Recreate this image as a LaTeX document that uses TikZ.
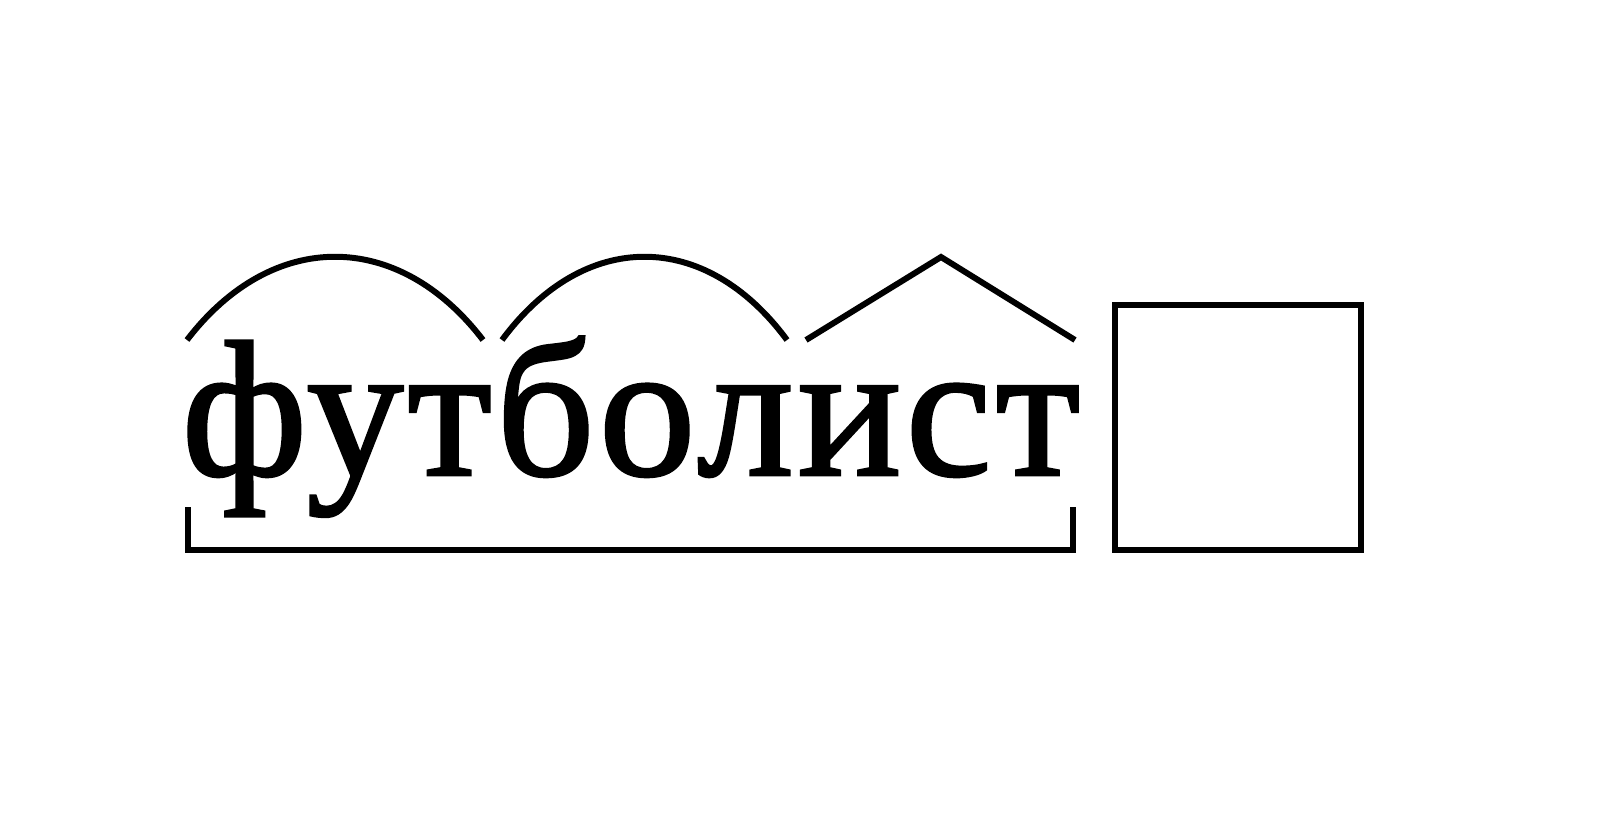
\documentclass[tikz,border=0pt]{standalone}
\usepackage{fontspec}
\setmainfont{Liberation Serif}
\newfontfamily\wordfont[FakeBold=1.5, LetterSpace=2.2]{Liberation Serif}
\tikzset{
  morph/.style={line width=1.7pt},
  wordtext/.style={inner sep=0pt, font=\wordfont\fontsize{55}{60}\selectfont}
}
\begin{document}
\begin{tikzpicture}[x=0.01cm, y=-0.01cm]
  \useasboundingbox (0,0) rectangle (1600,836);

  \node[wordtext, anchor=base west] (word) at (181,475) {футболист};

  % корни
  \draw[morph] (187,340) .. controls (272,229) and (398,229) .. (483,340);
  \draw[morph] (502,340) .. controls (584,229) and (705,229) .. (787,340);
  % суффикс
  \draw[morph] (806,340) -- (941,257) -- (1075,340);
  % окончание
  \draw[morph] (1115,305) rectangle (1361,550);
  % основа
  \draw[morph] (188,507) -- (188,550) -- (1073,550) -- (1073,507);

\end{tikzpicture}
\end{document}
